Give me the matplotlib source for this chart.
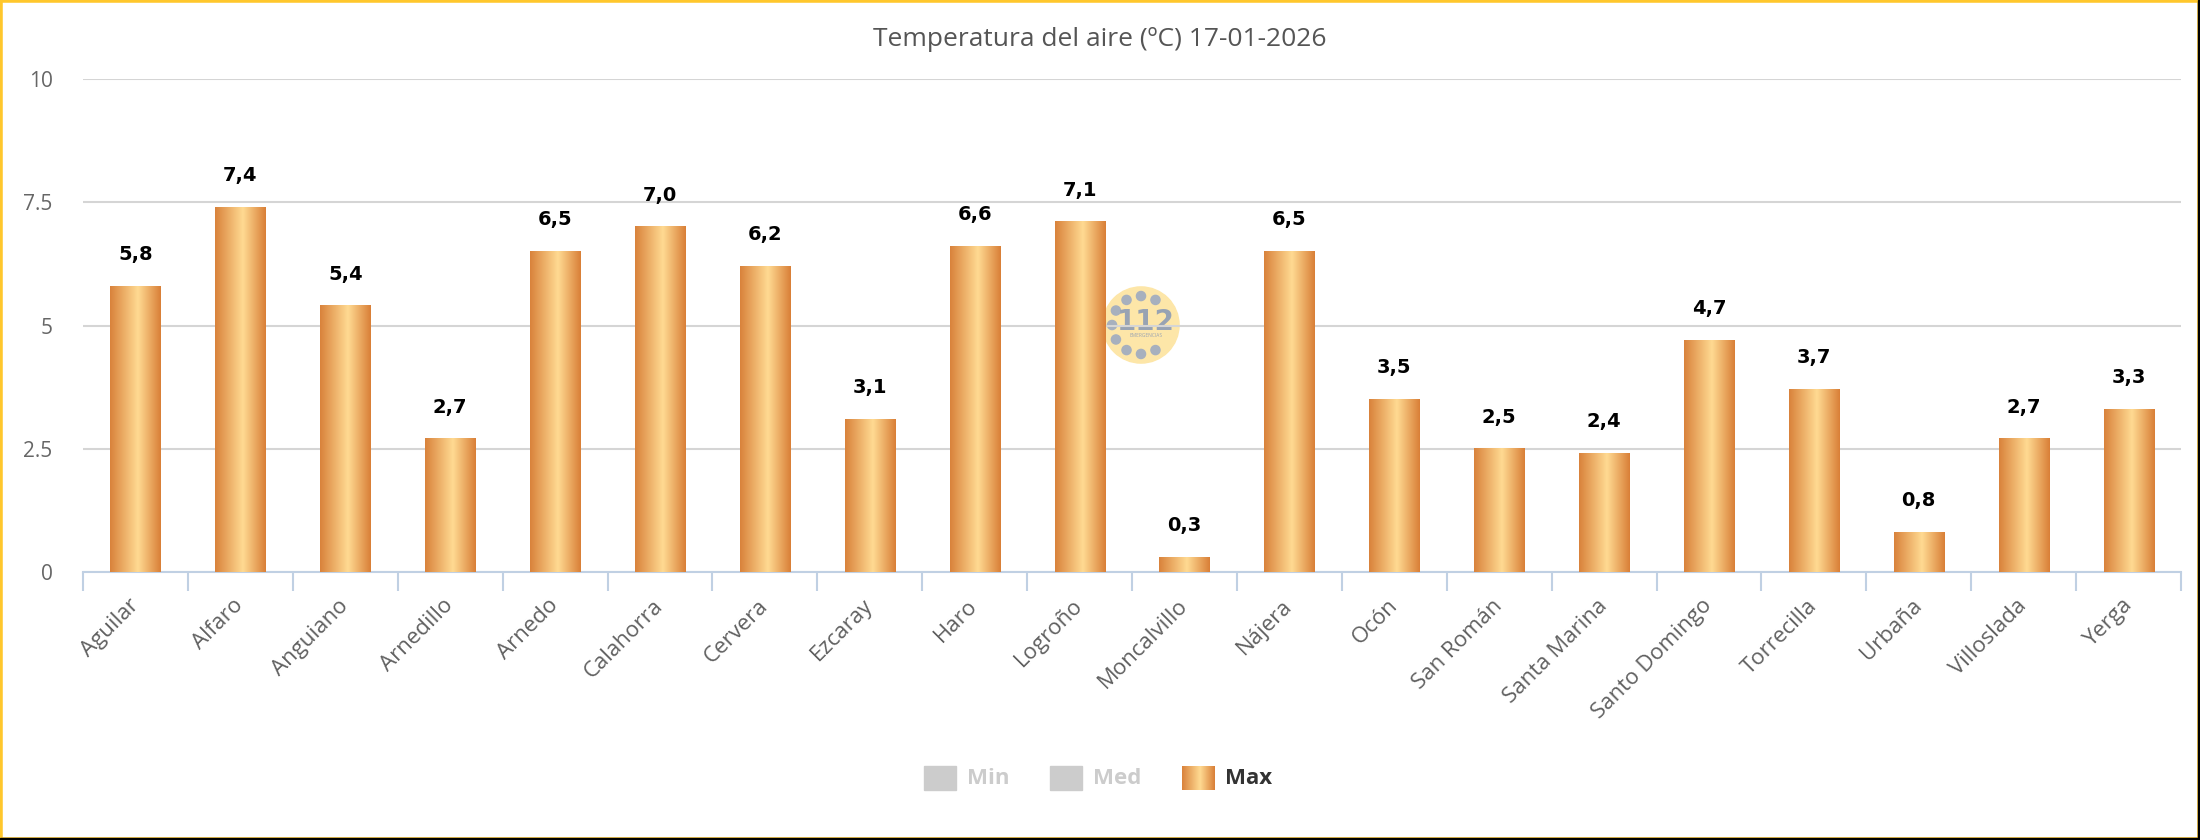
import numpy as np
import matplotlib
matplotlib.use('Agg')
import matplotlib.pyplot as plt
from matplotlib.colors import LinearSegmentedColormap
from matplotlib.patches import Rectangle, Circle

# datos
estaciones = ['Aguilar', 'Alfaro', 'Anguiano', 'Arnedillo', 'Arnedo', 'Calahorra',
              'Cervera', 'Ezcaray', 'Haro', 'Logroño', 'Moncalvillo', 'Nájera',
              'Ocón', 'San Román', 'Santa Marina', 'Santo Domingo', 'Torrecilla',
              'Urbaña', 'Villoslada', 'Yerga']
maximas = [5.8, 7.4, 5.4, 2.7, 6.5, 7.0, 6.2, 3.1, 6.6, 7.1,
           0.3, 6.5, 3.5, 2.5, 2.4, 4.7, 3.7, 0.8, 2.7, 3.3]
yticks = [0, 2.5, 5, 7.5, 10]
ytick_labels = ['0', '2.5', '5', '7.5', '10']
leyenda = ['Min', 'Med', 'Max']
titulo = 'Temperatura del aire (ºC) 17-01-2026'

plt.rcParams['font.family'] = ['Open Sans', 'DejaVu Sans']

W, H = 2200, 840
fig = plt.figure(figsize=(W / 100, H / 100), dpi=100)
fig.patch.set_facecolor('white')

# logo de fondo (marca de agua 112)
lax = fig.add_axes([(1141 - 40) / W, 1 - (325 + 40) / H, 80 / W, 80 / H], zorder=0)
lax.set_xlim(-1.05, 1.05)
lax.set_ylim(-1.05, 1.05)
lax.set_aspect('equal')
lax.axis('off')
lax.add_patch(Circle((0, 0), 1, color='#fde6a8'))
for ang in [60, 90, 120, 150, 180, 210, 240, 270, 300]:
    a = np.deg2rad(ang)
    lax.add_patch(Circle((0.76 * np.cos(a), 0.76 * np.sin(a)), 0.12, color='#a7b0be'))
lax.text(0.12, 0.08, '112', ha='center', va='center', fontsize=20, fontweight='bold',
         color='#98a3b3', family='DejaVu Sans')
lax.text(0.12, -0.28, 'EMERGENCIAS', ha='center', va='center', fontsize=3.5, color='#98a3b3')

# grafico principal
ax = fig.add_axes([83 / W, 1 - 572 / H, (2181 - 83) / W, (572 - 79) / H], zorder=1)
ax.patch.set_alpha(0)

cmap = LinearSegmentedColormap.from_list('cobre', [(0, '#d9823b'), (0.55, '#ffda92'), (1, '#d97f37')])
grad = np.linspace(0, 1, 256).reshape(1, -1)

x = np.arange(len(estaciones))
barras = ax.bar(x, maximas, width=0.477, color='none', zorder=3)
for b, v in zip(barras, maximas):
    ax.imshow(grad, cmap=cmap, aspect='auto', interpolation='bilinear',
              extent=[b.get_x(), b.get_x() + b.get_width(), 0, b.get_height()], zorder=3)
    ax.annotate(f'{v:.1f}'.replace('.', ','), (b.get_x() + b.get_width() / 2, v),
                xytext=(0, 16), textcoords='offset points', ha='center', va='bottom',
                fontsize=14, fontweight='bold', color='black', family='DejaVu Sans')

ax.set_xlim(-0.5, len(estaciones) - 0.5)
ax.set_ylim(0, 10)
ax.set_yticks(yticks)
ax.set_yticklabels(ytick_labels, fontsize=15, color='#666666')
ax.tick_params(axis='y', length=0, pad=22)
ax.yaxis.grid(True, color='#d5d5d5', lw=1.5, zorder=0)
ax.set_axisbelow(True)

ax.set_xticks(x)
ax.set_xticklabels(estaciones, rotation=45, ha='right', va='center', rotation_mode='anchor',
                   fontsize=16, color='#606060')
ax.set_xticks(np.arange(-0.5, len(estaciones)), minor=True)
ax.tick_params(axis='x', which='major', length=0, pad=22)
ax.tick_params(axis='x', which='minor', length=14, width=1.5, color='#c0d0e3')

for s in ['top', 'right', 'left']:
    ax.spines[s].set_visible(False)
ax.spines['bottom'].set_color('#c0d0e3')
ax.spines['bottom'].set_linewidth(1.5)

# titulo
fig.text(0.5, 1 - 40 / H, titulo, ha='center', va='center', fontsize=19, color='#555555')

# leyenda
ly = 778
pos = [924, 1050, 1182]
for nombre, px in zip(leyenda, pos):
    if nombre == 'Max':
        gax = fig.add_axes([px / W, 1 - (ly + 12) / H, 33 / W, 24 / H])
        gax.imshow(grad, cmap=cmap, aspect='auto', interpolation='bilinear')
        gax.axis('off')
        col = '#333333'
    else:
        fig.patches.append(Rectangle((px / W, 1 - (ly + 12) / H), 32 / W, 24 / H,
                                     transform=fig.transFigure, color='#cccccc'))
        col = '#cccccc'
    fig.text((px + 43) / W, 1 - ly / H, nombre, ha='left', va='center',
             fontsize=16, fontweight='bold', color=col)

# borde
fig.patches.append(Rectangle((0, 0), 1, 1, transform=fig.transFigure, fill=False,
                             edgecolor='#ffc72c', lw=4))
fig.patches.append(Rectangle((1 - 2 / W, 0), 2 / W, 1, transform=fig.transFigure, color='black'))
fig.patches.append(Rectangle((0, 0), 1, 2 / H, transform=fig.transFigure, color='black'))

fig.savefig('out.png', dpi=100)
